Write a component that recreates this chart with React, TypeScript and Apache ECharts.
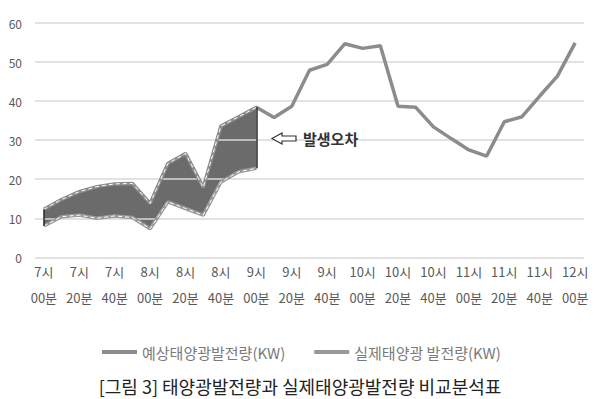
import React, { useEffect, useRef } from "react";
import * as echarts from "echarts";

const hours = [7, 8, 9, 10, 11, 12];
const minutes = ["00", "10", "20", "30", "40", "50"];
// 10-minute time slots from 7시 00분 to 12시 00분
const categories: string[] = [];
hours.forEach((h) => {
  minutes.forEach((m) => {
    if (h === 12 && m !== "00") return;
    categories.push(`${h}시\n${m}분`);
  });
});

const predicted = [
  12.3, 14.8, 16.8, 18.1, 18.8, 18.9, 13.8, 24.0, 26.6, 17.9, 33.6, 36.0, 38.4,
  35.8, 38.7, 47.9, 49.4, 54.7, 53.5, 54.2, 38.7, 38.4, 33.4, 30.4, 27.5, 25.9,
  34.7, 36.0, 41.3, 46.4, 54.9,
];
const actual = [8.0, 10.4, 10.8, 10.0, 10.6, 10.2, 7.3, 14.2, 12.5, 10.8, 19.3, 21.9, 22.8];

const yTicks = { min: 0, max: 60, interval: 10 };
const nameP = "예상태양광발전량(KW)";
const nameA = "실제태양광 발전량(KW)";
const caption = "[그림 3] 태양광발전량과 실제태양광발전량 비교분석표";
const noteText = "발생오차";

const FONT = '"Noto Sans CJK KR", "Noto Sans", sans-serif';

export default function App() {
  const ref = useRef<HTMLDivElement>(null);
  useEffect(() => {
    if (!ref.current) return;
    const chart = echarts.init(ref.current, undefined, { renderer: "svg" });
    const bandLen = actual.length;
    const diff = actual.map((a, i) => +(predicted[i] - a).toFixed(2));
    const lastIdx = bandLen - 1;
    chart.setOption({
      animation: false,
      backgroundColor: "#ffffff",
      textStyle: { fontFamily: FONT },
      grid: { left: 35, right: 16, top: 23, bottom: 141.7, containLabel: false },
      title: {
        text: caption,
        left: "center",
        top: 372,
        textStyle: { fontFamily: FONT, fontSize: 18, fontWeight: "normal", color: "#222222" },
      },
      legend: {
        data: [nameP, nameA],
        left: 97,
        top: 338,
        icon: "rect",
        itemWidth: 35,
        itemHeight: 4,
        itemGap: 29,
        textStyle: { fontFamily: FONT, fontSize: 15, color: "#7a7a7a", lineHeight: 18 },
      },
      xAxis: {
        type: "category",
        data: categories,
        boundaryGap: true,
        axisLine: { show: false },
        axisTick: { show: false },
        axisLabel: {
          interval: 1,
          margin: 1,
          fontSize: 13,
          lineHeight: 26,
          color: "#595959",
          fontFamily: FONT,
        },
        splitLine: { show: false },
      },
      yAxis: {
        type: "value",
        min: yTicks.min,
        max: yTicks.max,
        interval: yTicks.interval,
        z: 2,
        axisLine: { show: false },
        axisTick: { show: false },
        axisLabel: { margin: 13, fontSize: 12, color: "#595959", fontFamily: FONT },
        splitLine: { lineStyle: { color: "#d9d9d9", width: 1.5 } },
      },
      series: [
        {
          name: "base",
          type: "line",
          stack: "band",
          data: actual,
          symbol: "none",
          lineStyle: { opacity: 0 },
          z: 1,
          silent: true,
        },
        {
          name: "band",
          type: "line",
          stack: "band",
          data: diff,
          symbol: "none",
          lineStyle: { opacity: 0 },
          areaStyle: { color: "#6b6b6b", opacity: 1 },
          z: 1,
          silent: true,
          markLine: {
            silent: true,
            symbol: ["none", "none"],
            label: { show: false },
            lineStyle: { color: "#2a2a2a", width: 1.5, type: "solid" },
            data: [
              [{ coord: [categories[0], actual[0]] }, { coord: [categories[0], predicted[0]] }],
              [
                { coord: [categories[lastIdx], actual[lastIdx]] },
                { coord: [categories[lastIdx], predicted[lastIdx]] },
              ],
            ],
          },
        },
        {
          name: nameP,
          type: "line",
          data: predicted,
          symbol: "none",
          color: "#8c8c8c",
          lineStyle: { color: "#8c8c8c", width: 3.5 },
          itemStyle: { color: "#8c8c8c" },
          z: 3,
        },
        {
          name: nameA,
          type: "line",
          data: actual,
          symbol: "none",
          color: "#999999",
          lineStyle: { color: "#999999", width: 3.5 },
          itemStyle: { color: "#999999" },
          z: 3,
        },
        {
          name: "dashP",
          type: "line",
          data: predicted.slice(0, bandLen),
          symbol: "none",
          lineStyle: { color: "#ffffff", width: 1, type: [4, 3] },
          z: 4,
          silent: true,
        },
        {
          name: "dashA",
          type: "line",
          data: actual,
          symbol: "none",
          lineStyle: { color: "#ffffff", width: 1, type: [4, 3] },
          z: 4,
          silent: true,
        },
      ],
      graphic: [
        {
          type: "polygon",
          shape: {
            points: [
              [272, 138.5],
              [282, 133],
              [282, 136],
              [296, 136],
              [296, 141],
              [282, 141],
              [282, 144],
            ],
          },
          style: { fill: "#ffffff", stroke: "#333333", lineWidth: 1.2 },
          z: 10,
        },
        {
          type: "text",
          x: 303,
          y: 138.5,
          style: {
            text: noteText,
            fontFamily: FONT,
            fontSize: 15,
            fontWeight: "bold",
            fill: "#333333",
            verticalAlign: "middle",
          },
          z: 10,
        },
      ],
    });
    return () => chart.dispose();
  }, []);
  return (
    <div
      ref={ref}
      style={{ position: "fixed", left: 0, top: 0, width: 600, height: 399, background: "#fff" }}
    />
  );
}
